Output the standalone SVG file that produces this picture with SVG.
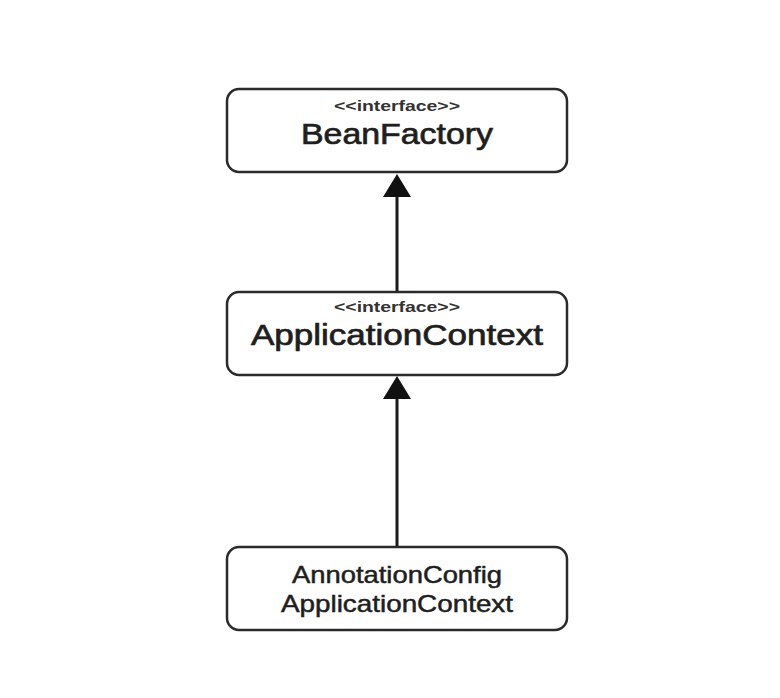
<svg xmlns="http://www.w3.org/2000/svg" width="780" height="698" viewBox="0 0 780 698">
<style>
.box{fill:#fff;stroke:#2a2a2a;stroke-width:2.5}
text{font-family:"Liberation Sans",Arial,sans-serif;text-anchor:middle;fill:#1e1e1e;stroke:#1e1e1e}
.st{font-size:14px;font-weight:bold;fill:#333;stroke:none}
.nm{font-size:29px;stroke-width:0.7}
.nm2{font-size:24px;stroke-width:0.5}
.ln{stroke:#1a1a1a;stroke-width:3;fill:none}
</style>
<rect width="780" height="698" fill="#fff"/>
<g id="connectors">
<line class="ln" x1="397" y1="291" x2="397" y2="195"/>
<path d="M397,174 L411,197 L383,197 Z" fill="#111"/>
<line class="ln" x1="397" y1="547" x2="397" y2="397"/>
<path d="M397,376 L411,399 L383,399 Z" fill="#111"/>
</g>
<g id="beanfactory">
<rect class="box" x="227" y="89" width="340" height="83" rx="12"/>
<text class="st" x="397" y="111" textLength="126" lengthAdjust="spacingAndGlyphs">&lt;&lt;interface&gt;&gt;</text>
<text class="nm" x="397" y="144" textLength="192" lengthAdjust="spacingAndGlyphs">BeanFactory</text>
</g>
<g id="applicationcontext">
<rect class="box" x="227" y="292" width="340" height="83" rx="12"/>
<text class="st" x="397" y="312" textLength="126" lengthAdjust="spacingAndGlyphs">&lt;&lt;interface&gt;&gt;</text>
<text class="nm" x="397" y="345" textLength="292" lengthAdjust="spacingAndGlyphs">ApplicationContext</text>
</g>
<g id="annotationconfig">
<rect class="box" x="227" y="547" width="340" height="83" rx="12"/>
<text class="nm2" x="397" y="583" textLength="210" lengthAdjust="spacingAndGlyphs">AnnotationConfig</text>
<text class="nm2" x="397" y="612" textLength="232" lengthAdjust="spacingAndGlyphs">ApplicationContext</text>
</g>
</svg>
